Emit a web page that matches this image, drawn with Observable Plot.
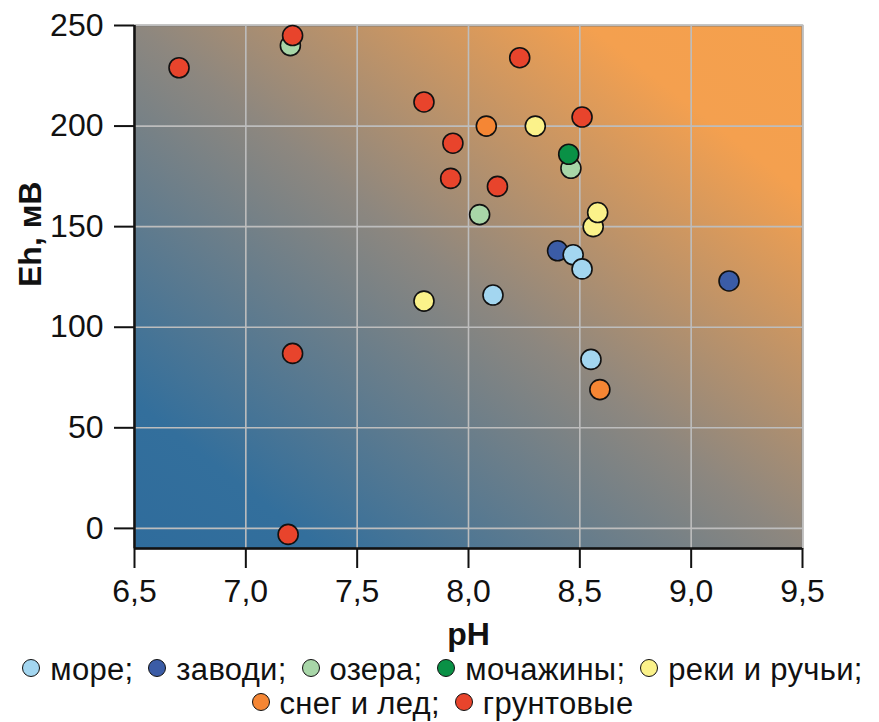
<!DOCTYPE html>
<html>
<head>
<meta charset="utf-8">
<script src="https://cdn.jsdelivr.net/npm/d3@7"></script>
<script src="https://cdn.jsdelivr.net/npm/@observablehq/plot@0.6"></script>
<style>
  html, body { margin: 0; padding: 0; background: #fff; overflow: hidden; }
  #chart svg { display: block; }
  .legend { width: 879px; text-align: center; font-family: "Liberation Sans", Arial, sans-serif; font-size: 31px; line-height: 34px; letter-spacing: 0.3px; color: #111; white-space: nowrap; }
  .legend .sw { display: inline-block; width: 16px; height: 16px; border-radius: 50%; border: 1.6px solid #111; vertical-align: 3px; margin-right: 10px; margin-left: 6px; }
</style>
</head>
<body>
<div id="chart"></div>
<div class="legend" id="legend"></div>
<script>
// categories and colours
const categories = ["море", "заводи", "озера", "мочажины", "реки и ручьи", "снег и лед", "грунтовые"];
const colors = ["#a3d6f0", "#3b5ca6", "#a8d6a8", "#0a9146", "#fbf28a", "#f58634", "#e8442c"];

// series values (pH, Eh in mV)
const seaPH = [8.47, 8.51, 8.11, 8.55];
const seaEh = [136, 129, 116, 84];
const backwaterPH = [8.40, 9.17];
const backwaterEh = [138, 123];
const lakePH = [7.20, 8.46, 8.05];
const lakeEh = [240, 179, 156];
const bogPH = [8.45];
const bogEh = [186];
const riverPH = [8.30, 8.56, 8.58, 7.80];
const riverEh = [200, 150, 157, 113];
const snowPH = [8.08, 8.59];
const snowEh = [200, 69];
const groundPH = [6.70, 7.21, 7.80, 8.23, 7.93, 7.92, 8.13, 8.51, 7.21, 7.19];
const groundEh = [229, 245, 212, 234, 191.5, 174, 170, 204.5, 87, -3];

// tick labels
const xTicks = [6.5, 7.0, 7.5, 8.0, 8.5, 9.0, 9.5];
const yTicks = [0, 50, 100, 150, 200, 250];

// draw order (later on top)
const series = [
  [2, lakePH, lakeEh],
  [1, backwaterPH, backwaterEh],
  [0, seaPH, seaEh],
  [3, bogPH, bogEh],
  [4, riverPH, riverEh],
  [5, snowPH, snowEh],
  [6, groundPH, groundEh]
];
const data = series.flatMap(([ci, xs, ys]) => xs.map((x, i) => ({pH: x, Eh: ys[i], cat: categories[ci]})));

const fmt = d => d.toFixed(1).replace(".", ",");
const font = "'Liberation Sans', Arial, sans-serif";

const plot = Plot.plot({
  width: 879,
  height: 653,
  marginTop: 25,
  marginLeft: 134,
  marginRight: 77,
  marginBottom: 105,
  style: {fontFamily: font, background: "#fff", color: "#111"},
  x: {domain: [6.5, 9.5], label: null},
  y: {domain: [-10, 250], label: null},
  color: {domain: categories, range: colors},
  marks: [
    Plot.frame({fill: "url(#bggrad)", stroke: "#2a2520", strokeWidth: 1.5}),
    Plot.gridX(xTicks, {stroke: "#bdbdbd", strokeOpacity: 1, strokeWidth: 1.6}),
    Plot.gridY(yTicks, {stroke: "#bdbdbd", strokeOpacity: 1, strokeWidth: 1.6}),
    Plot.axisX(xTicks, {tickSize: 20, tickPadding: 11, fontSize: 32, tickFormat: fmt, strokeWidth: 2, stroke: "#111", label: null}),
    Plot.axisY(yTicks, {tickSize: 20, tickPadding: 11, fontSize: 32, strokeWidth: 2, stroke: "#111", label: null}),
    Plot.ruleX([6.5], {stroke: "#111", strokeWidth: 2.5}),
    Plot.ruleY([-10], {stroke: "#111", strokeWidth: 2.5}),
    Plot.dot(data, {x: "pH", y: "Eh", fill: "cat", r: 10, stroke: "#111", strokeWidth: 1.6}),
    Plot.text(["pH"], {frameAnchor: "bottom", dy: 86, fontSize: 32, fontWeight: "bold", lineAnchor: "middle", fill: "#111"}),
    Plot.text(["Eh, мВ"], {frameAnchor: "left", dx: -104, rotate: -90, fontSize: 32, fontWeight: "bold", lineAnchor: "middle", fill: "#111"})
  ]
});

// background gradient
const svg = d3.select(plot);
const defs = svg.insert("defs", ":first-child");
const grad = defs.append("linearGradient").attr("id", "bggrad")
  .attr("x1", 0).attr("y1", 1).attr("x2", 1).attr("y2", 0);
[[0.0, "#2f6c9c"], [0.14, "#336f9c"], [0.5, "#8d877f"], [0.84, "#f4a04f"], [1.0, "#f5a04c"]]
  .forEach(([o, c]) => grad.append("stop").attr("offset", o).attr("stop-color", c));

document.getElementById("chart").appendChild(plot);

// legend (two lines)
const legend = d3.select("#legend");
const lines = [[0, 1, 2, 3, 4], [5, 6]];
lines.forEach(idx => {
  const line = legend.append("div");
  idx.forEach((ci, k) => {
    const item = line.append("span");
    item.append("span").attr("class", "sw").style("background", colors[ci]);
    const last = ci === categories.length - 1;
    item.append("span").text(categories[ci] + (last ? "" : ";") + (k < idx.length - 1 ? " " : ""));
  });
});
</script>
</body>
</html>
